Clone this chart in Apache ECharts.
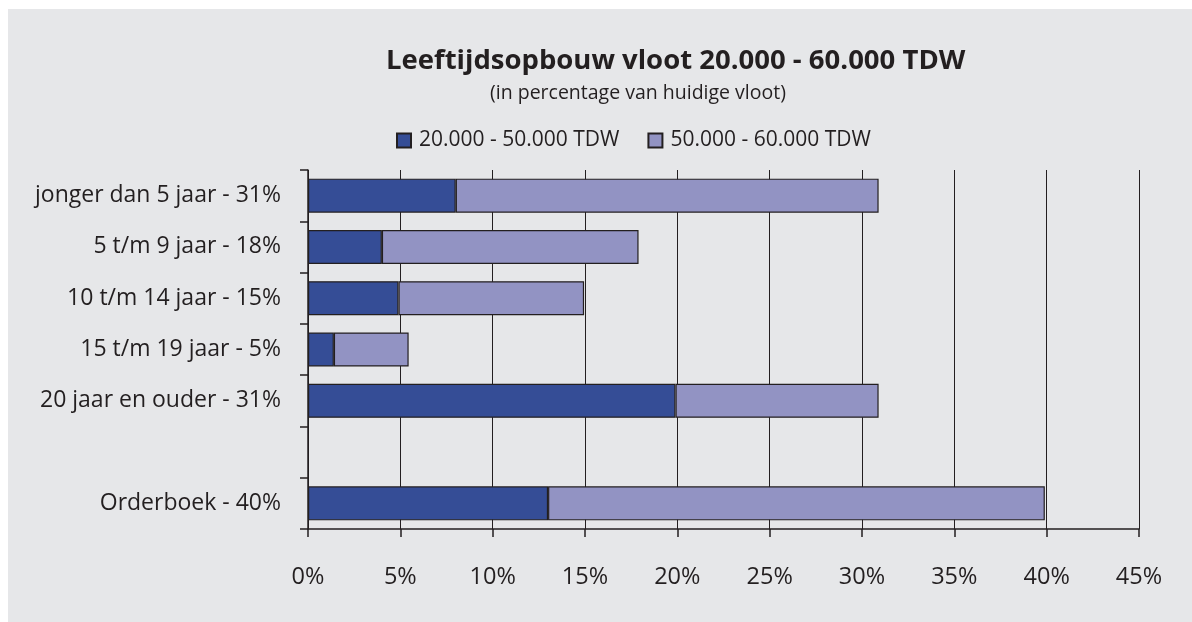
<!DOCTYPE html>
<html>
<head>
<meta charset="utf-8">
<script src="https://cdn.jsdelivr.net/npm/echarts@6/dist/echarts.min.js"></script>
<style>
html,body{margin:0;padding:0;background:#ffffff;}
#wrap{position:absolute;left:8px;top:9px;width:1184px;height:613px;background:#e6e7e9;}
#chart{position:absolute;left:0;top:0;width:1192px;height:622px;}
</style>
</head>
<body>
<div id="wrap"></div>
<div id="chart"></div>
<script>
var categories = ['jonger dan 5 jaar - 31%', '5 t/m 9 jaar - 18%', '10 t/m 14 jaar - 15%', '15 t/m 19 jaar - 5%', '20 jaar en ouder - 31%', '', 'Orderboek - 40%'];
var seriesNames = ['20.000 - 50.000 TDW', '50.000 - 60.000 TDW'];
var small = [8, 4, 4.9, 1.4, 19.9, null, 13];
var large = [22.9, 13.9, 10.05, 4.05, 11, null, 26.9];
var xTicks = [0, 5, 10, 15, 20, 25, 30, 35, 40, 45];

var TXT = '#231f20';
var FONT = 'Open Sans';
var chart = echarts.init(document.getElementById('chart'), null, {renderer: 'canvas'});
chart.setOption({
  backgroundColor: 'transparent',
  animation: false,
  title: [
    {text: 'Leeftijdsopbouw vloot 20.000 - 60.000 TDW', left: 381, top: 42,
     textStyle: {fontFamily: FONT, fontWeight: 'bold', fontSize: 27.5, color: TXT}},
    {text: '(in percentage van huidige vloot)', left: 485, top: 78,
     textStyle: {fontFamily: FONT, fontWeight: 'normal', fontSize: 19.5, color: TXT}}
  ],
  legend: {
    left: 391, top: 125, itemWidth: 14, itemHeight: 14, itemGap: 28, icon: 'rect',
    textStyle: {fontFamily: FONT, fontSize: 21, color: TXT, padding: [0, 0, 0, 3]},
    data: seriesNames
  },
  grid: {left: 308, right: 53, top: 170, bottom: 93, containLabel: false},
  xAxis: {
    type: 'value', min: xTicks[0], max: xTicks[xTicks.length - 1], interval: 5,
    axisLine: {show: true, lineStyle: {color: TXT, width: 1.5}},
    axisTick: {show: true, length: 8, lineStyle: {color: TXT, width: 1.5}},
    splitLine: {show: true, lineStyle: {color: TXT, width: 1}},
    axisLabel: {formatter: '{value}%', margin: 36, fontFamily: FONT, fontSize: 23.5, color: TXT}
  },
  yAxis: {
    type: 'category', inverse: true, data: categories,
    axisLine: {show: true, lineStyle: {color: TXT, width: 1.5}},
    axisTick: {show: true, length: 8, alignWithLabel: false, lineStyle: {color: TXT, width: 1.5}},
    splitLine: {show: false},
    axisLabel: {margin: 27, fontFamily: FONT, fontSize: 23, color: TXT}
  },
  series: [
    {name: seriesNames[0], type: 'bar', stack: 'a', data: small, barWidth: 34,
     itemStyle: {color: '#354d96', borderColor: TXT, borderWidth: 1.2}},
    {name: seriesNames[1], type: 'bar', stack: 'a', data: large, barWidth: 34,
     itemStyle: {color: '#9293c3', borderColor: TXT, borderWidth: 1.2}}
  ]
});
</script>
</body>
</html>
